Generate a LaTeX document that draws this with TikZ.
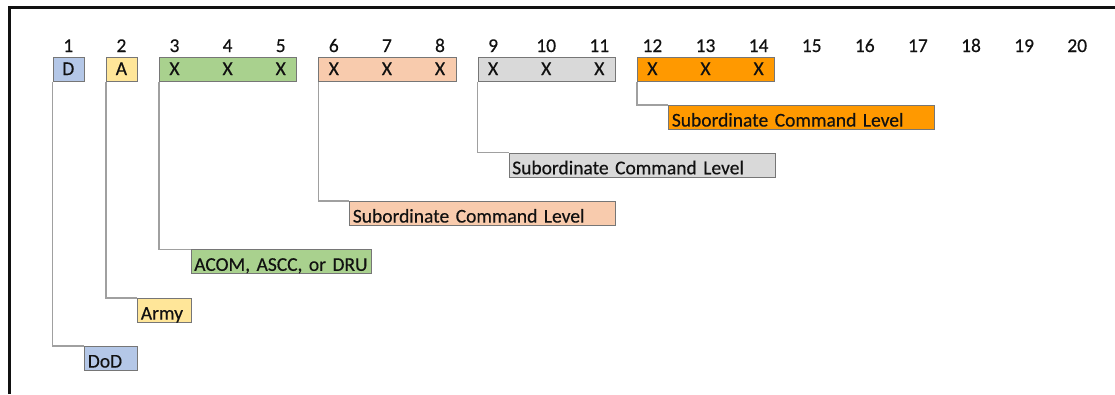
\documentclass[tikz,border=0pt]{standalone}
\usepackage{fontspec}
\setmainfont{Carlito}[UprightFeatures={FakeBold=0.35}]
\definecolor{cD}{HTML}{B4C7E7}
\definecolor{cA}{HTML}{FFE699}
\definecolor{cG}{HTML}{A9D18E}
\definecolor{cS}{HTML}{F8CBAD}
\definecolor{cY}{HTML}{D9D9D9}
\definecolor{cO}{HTML}{FF9900}
\definecolor{bord}{HTML}{767676}
\definecolor{conn}{HTML}{A0A0A0}
\definecolor{txt}{HTML}{111111}
\begin{document}
\begin{tikzpicture}[x=1pt,y=-1pt,
  every node/.style={font=\fontsize{19.5}{22}\selectfont, text=txt},
  grp/.style={draw=bord, line width=1.1pt, minimum height=24pt, inner sep=0pt, anchor=north west},
  lab/.style={draw=bord, line width=1.1pt, inner xsep=3pt, inner ysep=0pt, anchor=north west,
              text height=21pt, text depth=3pt, align=left},
  letter/.style={anchor=base, inner sep=0pt},
  num/.style={anchor=base, inner sep=0pt},
  conline/.style={draw=conn, line width=1.4pt},
  frame/.style={draw=txt, line width=3pt}]
\useasboundingbox (0,0) rectangle (1115,394);
% frame
\coordinate (fb) at (9,394);
\coordinate (ftl) at (9,7.2);
\coordinate (fr) at (1115,7.2);
\draw[frame] (fb) -- (ftl) -- (fr);
% column numbers
\foreach \c in {1,...,20}{
  \pgfmathsetmacro{\xx}{68.3+(\c-1)*53.1}
  \node[num] (n\c) at (\xx,52) {\c};
}
% group boxes
\node[grp, fill=cD, minimum width=31.2pt] (g1) at (52.7,56.7) {};
\node[grp, fill=cA, minimum width=31.2pt] (g2) at (105.8,56.7) {};
\node[grp, fill=cG, minimum width=137.4pt] (g3) at (158.9,56.7) {};
\node[grp, fill=cS, minimum width=137.4pt] (g4) at (318.2,56.7) {};
\node[grp, fill=cY, minimum width=137.4pt] (g5) at (477.5,56.7) {};
\node[grp, fill=cO, minimum width=137.4pt] (g6) at (636.8,56.7) {};
% letters
\node[letter] (x1) at (68.3,75) {D};
\node[letter] (x2) at (121.4,75) {A};
\foreach \c in {3,...,14}{
  \pgfmathsetmacro{\xx}{68.3+(\c-1)*53.1}
  \node[letter] (x\c) at (\xx,75) {X};
}
% label boxes
\node[lab, fill=cD, text width=47pt] (l1) at (84.3,346) {DoD};
\node[lab, fill=cA, text width=47.4pt] (l2) at (137.3,298) {Army};
\node[lab, fill=cG, text width=174.3pt] (l3) at (190.7,249.3) {ACOM, ASCC, or DRU};
\node[lab, fill=cS, text width=260pt] (l4) at (349.3,201) {Subordinate Command Level};
\node[lab, fill=cY, text width=260pt] (l5) at (508.7,152.7) {Subordinate Command Level};
\node[lab, fill=cO, text width=260pt] (l6) at (668.3,105) {Subordinate Command Level};
% connectors
\foreach \i in {1,...,6}{
  \draw[conline] (g\i.south west) |- (l\i.north west);
}
\end{tikzpicture}
\end{document}
